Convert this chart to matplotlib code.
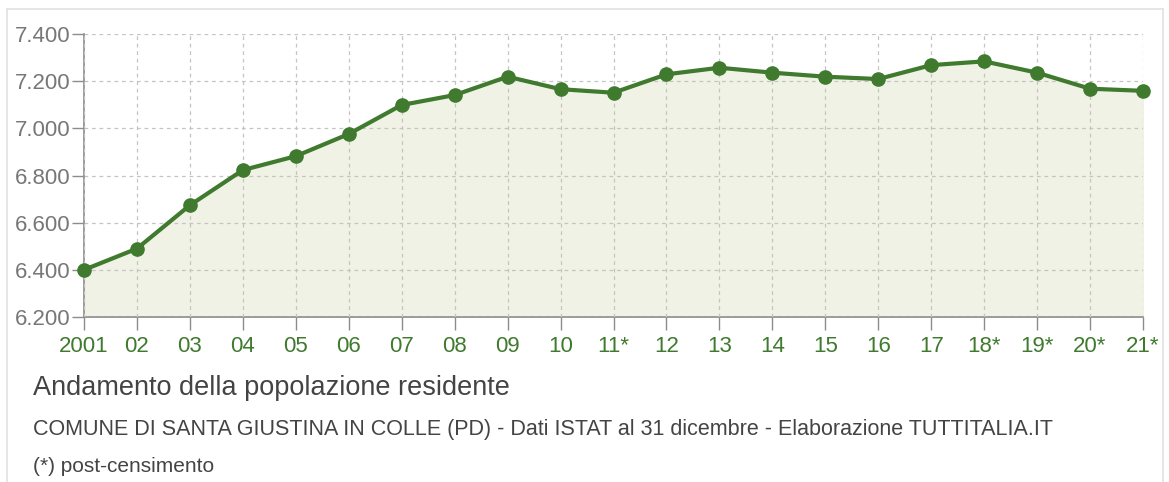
import matplotlib
matplotlib.use('Agg')
import matplotlib.pyplot as plt
from matplotlib.lines import Line2D

plt.rcParams['font.family'] = ['Liberation Sans', 'DejaVu Sans']

# ----- data -----
years = list(range(2001, 2022))
year_labels = ['2001', '02', '03', '04', '05', '06', '07', '08', '09', '10',
               '11*', '12', '13', '14', '15', '16', '17', '18*', '19*', '20*', '21*']
population = [6400, 6490, 6674, 6823, 6882, 6976, 7099, 7141, 7219, 7166,
              7151, 7229, 7257, 7236, 7219, 7209, 7268, 7284, 7236, 7168, 7159]
y_ticks = [6200, 6400, 6600, 6800, 7000, 7200, 7400]
y_labels = ['6.200', '6.400', '6.600', '6.800', '7.000', '7.200', '7.400']

title = 'Andamento della popolazione residente'
subtitle = ('COMUNE DI SANTA GIUSTINA IN COLLE (PD) - Dati ISTAT al 31 dicembre'
            ' - Elaborazione TUTTITALIA.IT')
note = '(*) post-censimento'

green = '#3f7a2e'
fill = '#f0f2e5'
grey = '#8c8c8c'

fig = plt.figure(figsize=(11.69, 4.82), dpi=100)
fig.patch.set_facecolor('white')
ax = fig.add_axes([84 / 1169, 1 - 317 / 482, (1143 - 84) / 1169, (317 - 34) / 482])

ax.fill_between(years, population, 6200, color=fill, zorder=1)
ax.plot(years, population, '-o', color=green, linewidth=3, markersize=9.5,
        markerfacecolor=green, markeredgecolor=green, zorder=3, clip_on=False)

ax.set_xlim(2001, 2021)
ax.set_ylim(6200, 7400)
ax.set_xticks(years)
ax.set_xticklabels(year_labels)
ax.set_yticks(y_ticks)
ax.set_yticklabels(y_labels)

ax.grid(True, color='#c4c4c4', linestyle=(0, (3, 3)), linewidth=0.9, zorder=2)
ax.set_axisbelow(False)
for s in ['top', 'right']:
    ax.spines[s].set_visible(False)
for s in ['left', 'bottom']:
    ax.spines[s].set_color(grey)
    ax.spines[s].set_linewidth(1.2)
    ax.spines[s].set_zorder(2.5)

ax.tick_params(axis='x', colors=grey, labelcolor=green, labelsize=16,
               length=9, width=1, pad=5)
ax.tick_params(axis='y', colors=grey, labelcolor='#777777', labelsize=16,
               length=9, width=1, pad=1)

fig.text(33 / 1169, 1 - 388 / 482, title, fontsize=19.5, color='#444444', va='center')
fig.text(33 / 1169, 1 - 430 / 482, subtitle, fontsize=15.5, color='#444444', va='center')
fig.text(33 / 1169, 1 - 466 / 482, note, fontsize=15, color='#444444', va='center')

# light frame around the chart
bc = '#e2e2e2'
fig.add_artist(Line2D([7 / 1169, 7 / 1169], [0, 1 - 9 / 482], color=bc, lw=1.2))
fig.add_artist(Line2D([7 / 1169, 1163 / 1169], [1 - 9 / 482, 1 - 9 / 482], color=bc, lw=1.2))
fig.add_artist(Line2D([1163 / 1169, 1163 / 1169], [0, 1 - 9 / 482], color=bc, lw=1.2))

fig.savefig('out.png', dpi=100)
